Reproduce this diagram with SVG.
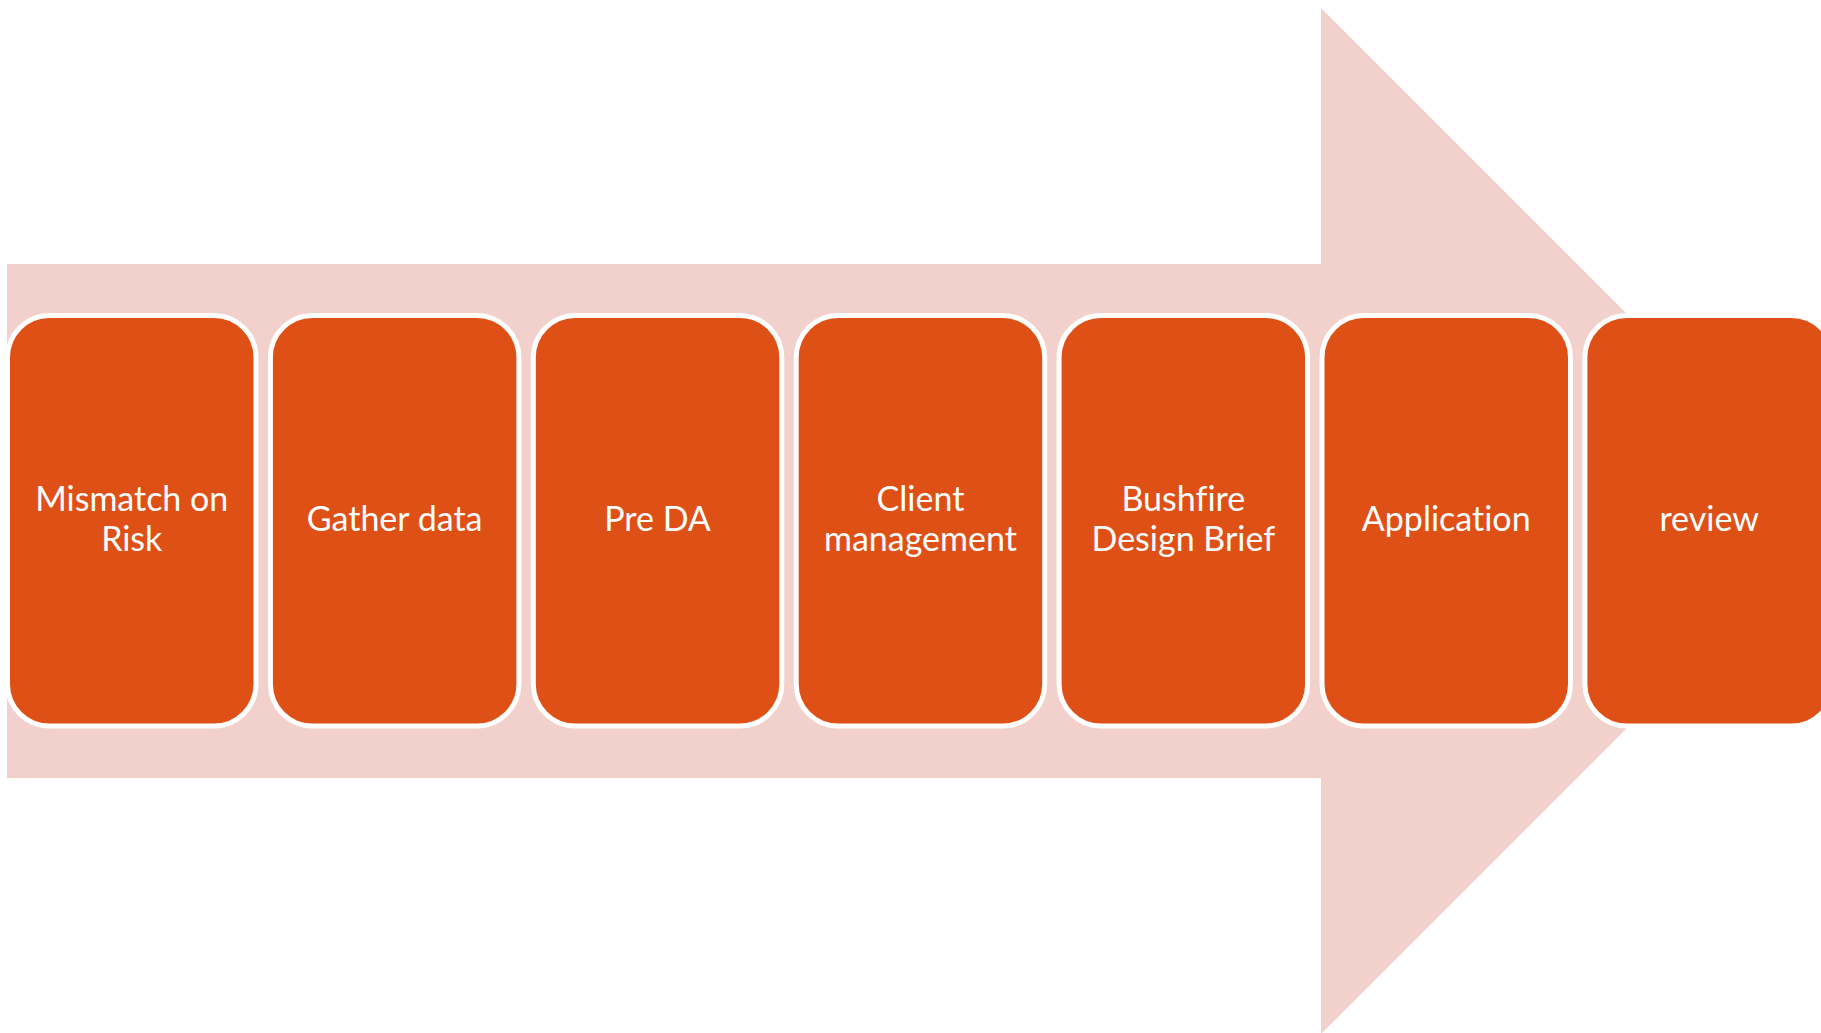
<svg xmlns="http://www.w3.org/2000/svg" width="1821" height="1033" viewBox="0 0 1821 1033">
  <style>
    .step rect { fill: #DF5016; stroke: #FFFFFF; stroke-width: 5; }
    .step text { fill: #FFFFFF; font-family: Lato, "Open Sans", "Liberation Sans", sans-serif; font-size: 34px; text-anchor: middle; font-variant-ligatures: none; font-feature-settings: "liga" 0, "clig" 0, "dlig" 0; }
  </style>
  <rect width="1821" height="1033" fill="#FFFFFF"/>
  <!-- background block arrow -->
  <g id="arrow">
    <polygon points="7,264 1321,264 1321,8 1834,521 1321,1034 1321,778 7,778" fill="#F2D1CC"/>
  </g>
  <!-- process steps, left to right -->
  <g id="step1" class="step">
    <rect x="7.5" y="315.5" width="248.5" height="410.5" rx="42" ry="42"/>
    <text x="131.75" y="511">Mismatch on</text>
    <text x="131.75" y="551">Risk</text>
  </g>
  <g id="step2" class="step">
    <rect x="270.4" y="315.5" width="248.5" height="410.5" rx="42" ry="42"/>
    <text x="394.65" y="531">Gather data</text>
  </g>
  <g id="step3" class="step">
    <rect x="533.3" y="315.5" width="248.5" height="410.5" rx="42" ry="42"/>
    <text x="657.55" y="531">Pre DA</text>
  </g>
  <g id="step4" class="step">
    <rect x="796.2" y="315.5" width="248.5" height="410.5" rx="42" ry="42"/>
    <text x="920.45" y="511">Client</text>
    <text x="920.45" y="551">management</text>
  </g>
  <g id="step5" class="step">
    <rect x="1059.1" y="315.5" width="248.5" height="410.5" rx="42" ry="42"/>
    <text x="1183.35" y="511">Bushfire</text>
    <text x="1183.35" y="551">Design Brief</text>
  </g>
  <g id="step6" class="step">
    <rect x="1322" y="315.5" width="248.5" height="410.5" rx="42" ry="42"/>
    <text x="1446.25" y="531">Application</text>
  </g>
  <g id="step7" class="step">
    <rect x="1584.9" y="315.5" width="248.5" height="410.5" rx="42" ry="42"/>
    <text x="1709.15" y="531">review</text>
  </g>
</svg>
